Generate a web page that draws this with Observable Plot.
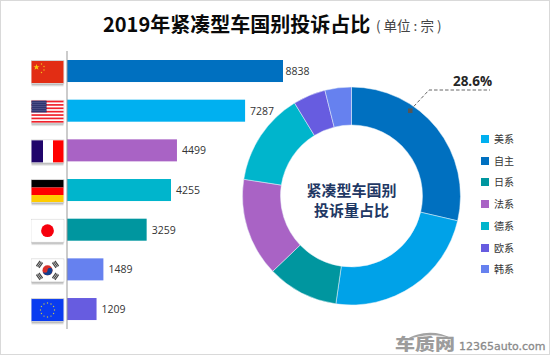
<!DOCTYPE html>
<html><head><meta charset="utf-8">
<script src="https://cdn.jsdelivr.net/npm/d3@7"></script>
<script src="https://cdn.jsdelivr.net/npm/@observablehq/plot@0.6"></script>
<style>
html,body{margin:0;padding:0;background:#fff;overflow:hidden}
#page{position:relative;width:550px;height:356px;overflow:hidden;font-family:"Noto Sans CJK SC","Noto Sans",sans-serif}
#page svg.plot{position:absolute;left:0;top:0}
#border{position:absolute;left:0;top:0;width:550px;height:355px;box-sizing:border-box;border:1px solid #d9d9d9;border-top-width:1.5px;pointer-events:none}
.abs{position:absolute;white-space:nowrap}
#title{left:103px;top:9px;font-size:20px;font-weight:700;color:#0a0a0a;line-height:30px}
#unit{left:376px;top:15px;font-size:13.5px;color:#444;line-height:20px}
.lg{left:481px;width:60px;height:14px;line-height:14px;font-size:10px;color:#333}
.lg i{position:absolute;left:0;top:3px;width:8px;height:8px}
.lg span{position:absolute;left:13px;top:0}
#logo{left:395px;top:333px;font-size:16px;font-weight:900;color:#9c9c9c;line-height:20px;transform:scaleX(1.25);transform-origin:left center}
#site{left:459px;top:340px;font-family:"DejaVu Sans",sans-serif;font-size:11px;color:#8a8a8a;line-height:14px;-webkit-text-stroke:.3px #8a8a8a}
</style></head><body>
<div id="page"></div>
<script>
const countries = ["CN","US","FR","DE","JP","KR","EU"];
const barValues = [8838,7287,4499,4255,3259,1489,1209];
const barColors = ["#0070c0","#00b0f0","#a963c5","#00b5cc","#00969f","#6681ef","#675ce0"];

const sliceNames = ["自主","美系","日系","法系","德系","欧系","韩系"];
const sliceValues = [8838,7287,3259,4499,4255,1489,1209];
const sliceColors = ["#0070c0","#00a2e8","#00969f","#a963c5","#00b5cc","#675ce0","#6681ef"];

const legendNames = ["美系","自主","日系","法系","德系","欧系","韩系"];
const legendColors = ["#00b0f0","#0070c0","#00969f","#a963c5","#00b5cc","#675ce0","#6681ef"];
const legendTops = [132,154,175,197,219,241,262];

const chartTitle = "2019年紧凑型车国别投诉占比";
const unitText = "( 单位 : 宗 )";
const centerLines = ["紧凑型车国别","投诉量占比"];
const calloutText = "28.6%";

function flagBody(code){
  const W=32,H=22;
  if(code==="CN"){
    const s=[[10,3],[12.5,5.5],[12.5,9],[10,11.5]].map(p=>`<circle cx="${p[0]}" cy="${p[1]}" r=".7" fill="#f5c518"/>`).join("");
    return `<rect width="${W}" height="${H}" fill="#e22d14"/><path d="M5 3.5l1.2 3.2h3.2l-2.6 2 1 3.2-2.8-2-2.8 2 1-3.2-2.6-2h3.2z" fill="#f9c80e" transform="translate(1.5 .5) scale(.7)"/>`+s;
  }
  if(code==="US"){
    let r=`<rect width="${W}" height="${H}" fill="#fff"/>`;
    for(let i=0;i<7;i++) r+=`<rect y="${i*3.38}" width="${W}" height="1.69" fill="#f0212b"/>`;
    r+=`<rect width="15" height="11.8" fill="#1b1f5e"/>`;
    for(let y=1;y<11.5;y+=2) for(let x=1;x<15;x+=2) r+=`<rect x="${x}" y="${y}" width="1" height="1" fill="#a8a8d0"/>`;
    return r;
  }
  if(code==="FR") return `<rect width="${W}" height="${H}" fill="#fff"/><rect width="11.5" height="${H}" fill="#20056b"/><rect x="21.5" width="10.5" height="${H}" fill="#ff0000"/>`;
  if(code==="DE") return `<rect width="${W}" height="7.5" fill="#000"/><rect y="7.5" width="${W}" height="7.5" fill="#f00"/><rect y="15" width="${W}" height="7" fill="#fc0"/>`;
  if(code==="JP") return `<rect width="${W}" height="${H}" fill="#fff"/><circle cx="16" cy="11" r="6.4" fill="#f6000d"/>`;
  if(code==="KR"){
    const tr=(x,y,a)=>`<g transform="translate(${x} ${y}) rotate(${a})"><rect x="-3.2" y="-2.2" width="6.4" height="1.2" fill="#444"/><rect x="-3.2" y="-.6" width="6.4" height="1.2" fill="#444"/><rect x="-3.2" y="1" width="6.4" height="1.2" fill="#444"/></g>`;
    return `<rect width="${W}" height="${H}" fill="#fff"/>`+tr(8,5,-55)+tr(24,5,55)+tr(8,17,55)+tr(24,17,-55)+
      `<circle cx="16" cy="11" r="5" fill="#d9302a"/><path d="M11 11a5 5 0 0 0 10 0a2.5 2.5 0 0 0-5 0a2.5 2.5 0 0 1-5 0z" fill="#12408f"/>`;
  }
  let stars="";
  for(let i=0;i<12;i++){const a=i*Math.PI/6;stars+=`<circle cx="${16+7*Math.sin(a)}" cy="${11-7*Math.cos(a)}" r=".7" fill="#c9c24a"/>`;}
  return `<rect width="${W}" height="${H}" fill="#0a3cf0"/>`+stars;
}
function flagSrc(code){
  const svg=`<svg xmlns="http://www.w3.org/2000/svg" width="34" height="28" viewBox="0 0 34 28">
<defs><linearGradient id="s" x1="0" y1="0" x2="0" y2="1"><stop offset="0" stop-color="#777" stop-opacity=".85"/><stop offset="1" stop-color="#999" stop-opacity="0"/></linearGradient></defs>
<rect x="1" y="23" width="32" height="4" fill="url(#s)"/>
<rect x=".5" y=".5" width="33" height="23" fill="#fff" stroke="#d4d4d4"/>
<g transform="translate(1 1)">${flagBody(code)}</g></svg>`;
  return "data:image/svg+xml;charset=utf-8,"+encodeURIComponent(svg);
}

const bars = countries.map((c,i)=>({c,v:barValues[i],color:barColors[i]}));
const slices = sliceNames.map((n,i)=>({n,v:sliceValues[i],color:sliceColors[i]}));

function donut(index,scales,values,dim){
  const cx=351.5,cy=196,R=109,r=71;
  const g=d3.create("svg:g");
  const arcs=d3.pie().sort(null).value(d=>d.v)(slices);
  const arc=d3.arc().innerRadius(r).outerRadius(R);
  g.append("g").attr("transform",`translate(${cx},${cy})`).selectAll("path").data(arcs).join("path")
    .attr("d",arc).attr("fill",d=>d.data.color).attr("stroke","#e9f2f8").attr("stroke-width",.5);
  g.append("polyline").attr("points","410,110.5 429,90 490,90").attr("fill","none")
    .attr("stroke","#666").attr("stroke-width",1).attr("stroke-dasharray","3.5,2");
  g.append("rect").attr("x",408).attr("y",108.5).attr("width",4.5).attr("height",4.5).attr("fill","#555");
  g.append("text").attr("x",472.5).attr("y",85.5).attr("text-anchor","middle")
    .attr("font-size",13.5).attr("font-weight",700).attr("fill","#262626")
    .attr("font-family",'"Open Sans",sans-serif').text(calloutText);
  g.selectAll("text.c").data(centerLines).join("text").attr("class","c")
    .attr("x",cx).attr("y",(d,i)=>196+i*19.5).attr("text-anchor","middle")
    .attr("font-size",15).attr("font-weight",700).attr("fill","#1f3864")
    .attr("font-family",'"Noto Sans CJK SC",sans-serif').text(d=>d);
  return g.node();
}

const maxValue = d3.max(barValues);
const chart = Plot.plot({
  width:550,height:356,margin:0,
  style:{background:"transparent",fontFamily:'"Open Sans",sans-serif'},
  x:{domain:[0,maxValue],range:[67,283],axis:null},
  y:{domain:countries,range:[42.35,337.7],padding:.445,round:false,axis:null},
  marks:[
    Plot.barX(bars,{x:"v",y:"c",fill:"color"}),
    Plot.ruleX([0],{stroke:"#999",strokeWidth:1,insetTop:51,insetBottom:27,dx:-.5}),
    Plot.image(bars,{x:()=>0,y:"c",src:d=>flagSrc(d.c),width:34,height:28,dx:-20,dy:2.5,preserveAspectRatio:"xMidYMid meet"}),
    Plot.text(bars.filter(d=>d.v<maxValue),{x:"v",y:"c",text:d=>String(d.v),textAnchor:"start",dx:4.5,fontSize:10.5,fill:"#333"}),
    Plot.text(bars.filter(d=>d.v===maxValue),{x:"v",y:"c",text:d=>String(d.v),textAnchor:"start",dx:2,fontSize:10.5,fill:"#333"}),
    donut
  ]
});
const page=document.getElementById("page");
page.appendChild(chart);
function add(cls,id,txt,style){const d=document.createElement("div");d.className=cls;if(id)d.id=id;if(txt)d.textContent=txt;if(style)d.style.cssText=style;page.appendChild(d);return d;}
add("abs","title",chartTitle);
add("abs","unit",unitText);
legendNames.forEach((n,i)=>{
  const d=add("abs lg",null,null,`top:${legendTops[i]}px`);
  d.innerHTML=`<i style="background:${legendColors[i]}"></i><span>${n}</span>`;
});
add("abs","logo","车质网");
add("abs","site","12365auto.com");
const sw=document.createElementNS("http://www.w3.org/2000/svg","svg");
sw.setAttribute("width","60");sw.setAttribute("height","12");
sw.style.cssText="position:absolute;left:402px;top:330px";
sw.innerHTML='<path d="M3 10C16 2 34 -1 51 9C34 3 20 5 3 10z" fill="#a3a3a3"/>';
page.appendChild(sw);
add("","border");
</script></body></html>
